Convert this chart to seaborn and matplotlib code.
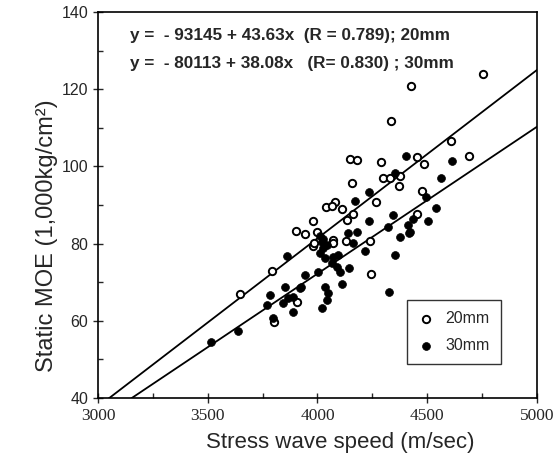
import numpy as np
import pandas as pd
import matplotlib
matplotlib.use("Agg")
import matplotlib.pyplot as plt
from matplotlib.ticker import MultipleLocator
import seaborn as sns

# 20mm specimens (open circles)
x20 = [4755, 4426, 4333, 4608, 4148, 4178, 4289, 4452, 4485, 4690,
       4297, 4330, 4376, 4156, 4370, 4474, 4080, 4039, 4064, 4110,
       4265, 4163, 4133, 3981, 3902, 3943, 4000, 4072, 4130, 4239,
       3981, 3791, 3647, 4242, 3800, 4452, 3908, 4069, 3984]
y20 = [124.0, 120.8, 111.8, 106.6, 102.0, 101.7, 101.1, 102.4, 100.6, 102.8,
       96.9, 96.9, 97.6, 95.6, 94.9, 93.6, 90.9, 89.4, 89.7, 88.9,
       90.9, 87.8, 86.1, 85.9, 83.3, 82.6, 82.9, 80.9, 80.7, 80.7,
       79.3, 72.9, 66.9, 72.0, 59.6, 87.8, 64.8, 80.2, 80.2]

# 30mm specimens (filled circles)
x30 = [4403, 4613, 4353, 4563, 4236, 4494, 4171, 4342, 4236, 4140,
       4178, 4323, 4163, 4216, 3862, 4019, 4026, 4011, 4034, 4064,
       4087, 4102, 4072, 4095, 4145, 4110, 4004, 3943, 3920, 3852,
       3784, 3867, 3890, 4034, 4049, 4042, 4327, 3769, 3638, 3513,
       3797, 4376, 4418, 4353, 4542, 4437, 4414, 4421, 4505, 3890,
       3844, 4019, 3923, 4010, 4024, 4045]
y30 = [102.8, 101.5, 98.2, 96.9, 93.3, 92.2, 91.1, 87.4, 85.8, 82.7,
       83.1, 84.4, 80.1, 78.2, 76.8, 80.5, 78.8, 77.5, 76.2, 74.9,
       74.0, 72.7, 76.6, 77.0, 73.8, 69.5, 72.7, 71.9, 68.4, 68.8,
       66.7, 65.8, 66.2, 68.8, 67.1, 65.4, 67.5, 64.1, 57.4, 54.6,
       60.8, 81.8, 82.8, 77.0, 89.3, 86.5, 84.8, 83.1, 85.9, 62.4,
       64.7, 63.2, 68.7, 82.0, 81.2, 79.6]

# regression lines as printed on the chart (y in 1,000 kg/cm2)
groups = ["20mm", "30mm"]
intercepts = [-93145, -80113]
slopes = [43.63, 38.08]
r_values = ["0.789", "0.830"]

df = pd.DataFrame({
    "speed": x20 + x30,
    "moe": y20 + y30,
    "group": ["20mm"] * len(x20) + ["30mm"] * len(x30),
})

sns.set_style("ticks")
plt.rcParams["font.family"] = ["Liberation Sans", "DejaVu Sans"]

fig = plt.figure(figsize=(5.57, 4.66), dpi=100)
ax = fig.add_axes([0.176, 0.146, 0.788, 0.828])

# fitted lines
xs = np.array([3000, 5000])
for b0, b1 in zip(intercepts, slopes):
    sns.lineplot(x=xs, y=(b0 + b1 * xs) / 1000, color="black", lw=1.3, ax=ax)

sns.scatterplot(data=df[df.group == "20mm"], x="speed", y="moe", marker="o",
                facecolor="white", edgecolor="black", linewidth=1.4, s=28,
                label="20mm", ax=ax, zorder=3)
sns.scatterplot(data=df[df.group == "30mm"], x="speed", y="moe", marker="o",
                color="black", edgecolor="black", linewidth=0.5, s=32,
                label="30mm", ax=ax, zorder=3)

ax.set_xlim(3000, 5000)
ax.set_ylim(40, 140)
ax.set_xticks([3000, 3500, 4000, 4500, 5000])
ax.set_yticks([40, 60, 80, 100, 120, 140])
ax.xaxis.set_minor_locator(MultipleLocator(250))
ax.yaxis.set_minor_locator(MultipleLocator(10))
ax.tick_params(which="major", direction="inout", length=7, width=1, labelsize=11.5)
ax.tick_params(which="minor", direction="in", length=3.5, width=1)
for lab in ax.get_xticklabels():
    lab.set_family("Liberation Serif")
    lab.set_fontsize(12.5)
for sp in ax.spines.values():
    sp.set_visible(True)
    sp.set_linewidth(1.2)
    sp.set_color("black")

ax.set_xlabel("Stress wave speed (m/sec)", fontsize=16)
ax.set_ylabel("Static MOE (1,000kg/cm²)", fontsize=17)
ax.xaxis.set_label_coords(0.551, -0.088)
ax.yaxis.set_label_coords(-0.092, 0.42)

ax.text(0.073, 0.940, "y =  - 93145 + 43.63x  (R = %s); 20mm" % r_values[0],
        transform=ax.transAxes, fontsize=12.3, fontweight="bold", va="center")
ax.text(0.073, 0.868, "y =  - 80113 + 38.08x   (R= %s) ; 30mm" % r_values[1],
        transform=ax.transAxes, fontsize=12.3, fontweight="bold", va="center")

leg = ax.legend(loc="lower left", bbox_to_anchor=(0.704, 0.088), fontsize=11.5,
                frameon=True, fancybox=False, edgecolor="black",
                borderaxespad=0.0, handletextpad=0.7, borderpad=0.7,
                labelspacing=0.75, handlelength=1.0)
leg.get_frame().set_linewidth(1.0)

fig.savefig("out.png", dpi=100)
